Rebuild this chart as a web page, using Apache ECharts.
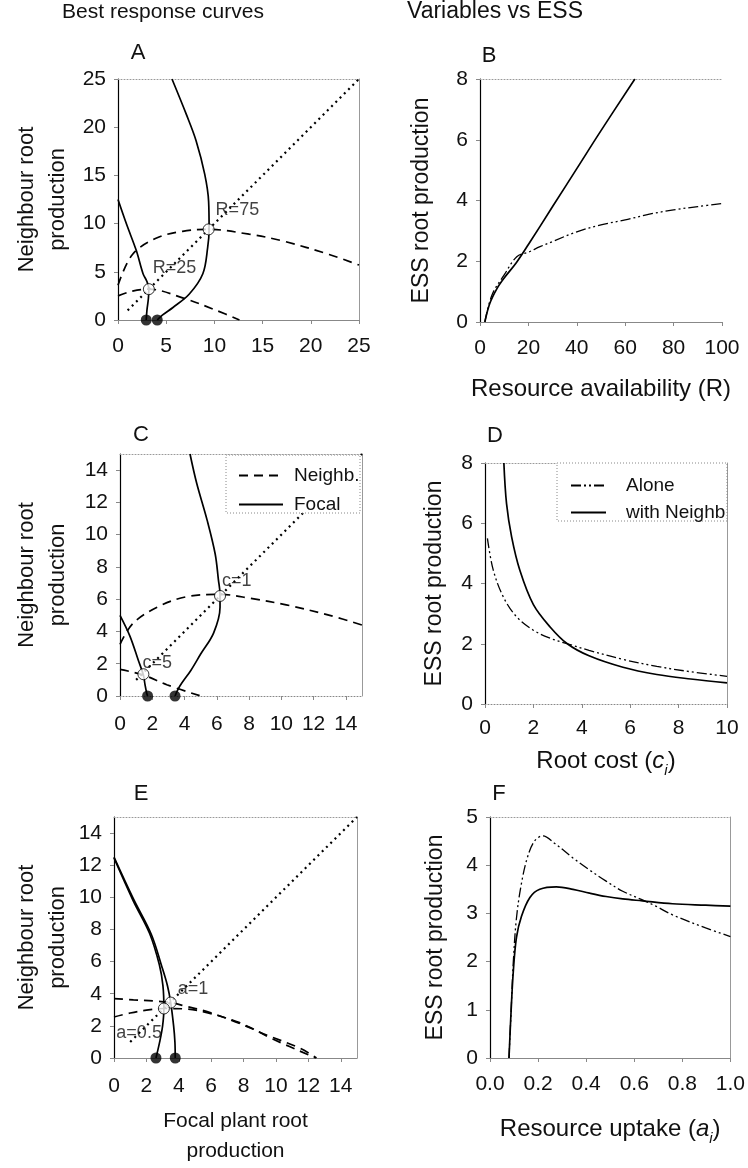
<!DOCTYPE html>
<html>
<head>
<meta charset="utf-8">
<script src="https://cdn.jsdelivr.net/npm/echarts@6/dist/echarts.min.js"></script>
<style>
  html, body { margin: 0; padding: 0; background: #fff; }
  #main { width: 748px; height: 1168px; }
</style>
</head>
<body>
<div id="main"></div>
<script>
// ---- data ----
// A: best response curves for R = 25 and R = 75
var focalA25 = [[2.93,0],[3.0,1.0],[3.15,2.2],[3.2,3.2],[3.0,4.0],[2.6,4.8],[1.9,7.2],[0.9,9.9],[0,12.5]];
var focalA75 = [[4.07,0],[4.6,0.5],[5.7,1.3],[7.4,2.7],[8.8,4.8],[9.3,7.5],[9.45,9.4],[9.4,12.3],[9.0,15.1],[8.1,18.6],[7.1,21.3],[5.6,25]];
var neighA25 = [[0,2.5],[1.5,3.0],[3.2,3.2],[6.7,2.3],[10.2,1.0],[12.6,0]];
var neighA75 = [[0,3.6],[1.5,6.8],[4,8.5],[6.7,9.2],[9.4,9.4],[13.6,8.9],[17.1,8.2],[21.9,6.8],[25,5.7]];
var diagA = [[1,1],[25,25]];
var eqA = [[3.2,3.2,'R=25'],[9.4,9.4,'R=75']];
var startA = [[2.93,0],[4.07,0]];

// B: ESS vs resource availability
var aloneB = [[2,0],[5,0.9],[10,1.55],[15.2,2.15],[20,2.3],[24.8,2.48],[30,2.65],[40,2.97],[50,3.2],[60,3.36],[70,3.55],[80,3.69],[90,3.8],[100,3.9]];
var neighB = [[2,0],[4,0.6],[7,1.1],[10,1.45],[15,1.95],[20,2.55],[30,3.8],[40,5.05],[50,6.3],[64,8]];

// C: best response curves for c = 1 and c = 5
var focalC1 = [[3.41,0],[3.7,0.6],[4.4,1.6],[5.0,2.6],[5.8,3.9],[6.2,5.5],[6.2,6.3],[6.1,7.2],[5.9,8.8],[5.4,10.9],[4.75,13.2],[4.34,15]];
var focalC5 = [[1.71,0],[1.65,0.2],[1.55,0.7],[1.45,1.3],[1.14,2.2],[0.62,3.7],[0,5.0]];
var neighC1 = [[0,3.2],[0.8,4.5],[2.3,5.5],[4.1,6.15],[6.2,6.3],[8.1,6.05],[10.3,5.65],[13,5.0],[15,4.4]];
var neighC5 = [[0,1.65],[1.45,1.3],[2.9,0.7],[5.0,0]];
var diagC = [[1,1],[15,15]];
var eqC = [[6.2,6.2,'c=1'],[1.45,1.35,'c=5']];
var startC = [[1.71,0],[3.41,0]];

// D: ESS vs root cost
var aloneD = [[0.1,5.5],[0.34,4.45],[0.76,3.55],[1.3,2.9],[2,2.45],[2.7,2.18],[3.4,2.0],[4.3,1.78],[5.7,1.48],[7.1,1.25],[8.5,1.07],[10,0.92]];
var neighD = [[0.78,8],[0.89,6.65],[1.1,5.55],[1.44,4.44],[2,3.3],[2.7,2.55],[3.4,2.0],[4.3,1.6],[5.7,1.22],[7.1,0.98],[8.5,0.83],[10,0.7]];

// E: best response curves for a = 0.5 and a = 1
var focalE1 = [[0,12.5],[1.2,9.9],[2.3,7.7],[2.95,5.7],[3.3,4.5],[3.5,3.45],[3.68,2.0],[3.76,1.0],[3.78,0]];
var focalE05 = [[0,12.45],[1.18,9.8],[2.2,7.75],[2.8,5.8],[3.02,4.5],[3.08,3.08],[3.0,2.0],[2.82,1.0],[2.59,0]];
var neighE1 = [[0,3.7],[1.2,3.62],[2.5,3.55],[3.5,3.45],[4.5,3.2],[5.7,2.9],[7.5,2.25],[9.5,1.4],[11.5,0.6],[12.5,0]];
var neighE05 = [[0,2.55],[1.0,2.8],[2.0,2.98],[3.08,3.08],[4.5,3.05],[5.8,2.8],[7.75,2.2],[9.8,1.18],[12.45,0]];
var diagE = [[1,1],[15,15]];
var eqE = [[3.5,3.45,'a=1'],[3.08,3.08,'a=0.5']];
var startE = [[2.59,0],[3.78,0]];

// F: ESS vs resource uptake
var aloneF = [[0.079,0],[0.088,1.0],[0.097,2.0],[0.11,2.9],[0.13,3.6],[0.155,4.15],[0.185,4.5],[0.22,4.61],[0.27,4.45],[0.345,4.15],[0.414,3.9],[0.483,3.67],[0.552,3.46],[0.634,3.28],[0.69,3.15],[0.759,2.97],[0.897,2.7],[1.0,2.52]];
var neighF = [[0.079,0],[0.088,1.0],[0.097,1.8],[0.11,2.5],[0.131,2.94],[0.166,3.33],[0.207,3.5],[0.276,3.55],[0.345,3.5],[0.414,3.42],[0.483,3.35],[0.552,3.3],[0.634,3.26],[0.759,3.2],[0.897,3.17],[1.0,3.15]];

// axis ranges [min, max, step] and titles
var xRanges = [[0,25,5],[0,100,20],[0,15,2],[0,10,2],[0,15,2],[0,1,0.2]];
var yRanges = [[0,25,5],[0,8,2],[0,15,2],[0,8,2],[0,15,2],[0,5,1]];
var xNames = ['', 'Resource availability (R)', '', 'Root cost ({it|c}{sub|i})', 'Focal plant root\nproduction', 'Resource uptake ({it|a}{sub|i})'];
var yNames = ['Neighbour root\nproduction', 'ESS root production', 'Neighbour root\nproduction', 'ESS root production', 'Neighbour root\nproduction', 'ESS root production'];
var headers = ['Best response curves', 'Variables vs ESS'];
var letters = ['A', 'B', 'C', 'D', 'E', 'F'];

// ---- layout / style ----
var FONT = '"Liberation Sans", Arial, sans-serif';
var INK = '#111';
var grids = [
  {left: 118, top: 79, width: 241, height: 241},
  {left: 480, top: 79, width: 242, height: 243},
  {left: 120, top: 454, width: 242, height: 242},
  {left: 485, top: 463, width: 242, height: 241},
  {left: 114, top: 817, width: 243, height: 241},
  {left: 490, top: 817, width: 242, height: 241}
];
var xGap = [0, 51, 0, 41, 48, 55];
var yGap = [45, 42, 47, 34, 41, 38];
var xNameSize = [21, 24, 21, 24, 21, 24];
var yNameSize = [22, 23, 22, 23, 22, 23];
var xLabelMargin = [16, 16, 18, 14, 18, 16];
var dottedBottom = [false, false, true, true, false, false];
var hasRight = [true, false, true, true, true, true];
var headerPos = [[163, 12], [495, 12]];
var headerSize = [21, 23];
var letterPos = [[138, 53], [489, 56], [141, 435], [495, 436], [141, 794], [499, 794]];
var labelPlace = {
  'R=25': ['right', [-7, -21]], 'R=75': ['right', [-4, -19]],
  'c=1': ['right', [-9, -15]], 'c=5': ['right', [-12, -11]],
  'a=1': ['right', [-4, -14]], 'a=0.5': ['left', [9, 25]]
};

var SOLID = {color: '#000', width: 1.7, type: 'solid'};
var DASH = {color: '#000', width: 1.7, type: [9, 6]};
var DOTS = {color: '#000', width: 2.2, type: [2, 4]};
var DASHDOT = {color: '#000', width: 1.3, type: [10, 3, 2, 3, 2, 3]};

function nameStyle(size) {
  return {
    fontSize: size, color: INK, fontFamily: FONT, lineHeight: size + 9,
    rich: {
      it: {fontSize: size, fontStyle: 'italic', fontFamily: FONT, color: INK},
      sub: {fontSize: Math.round(size * 0.62), fontStyle: 'italic', fontFamily: FONT, color: INK,
        verticalAlign: 'bottom', lineHeight: size + 9}
    }
  };
}

var xAxes = [], yAxes = [];
grids.forEach(function (g, i) {
  var xa = {
    type: 'value', gridIndex: i, min: xRanges[i][0], max: xRanges[i][1], interval: xRanges[i][2],
    axisLine: {onZero: false, lineStyle: {color: '#888', width: 1, type: dottedBottom[i] ? [1, 2] : 'solid'}},
    axisTick: {length: 4, lineStyle: {color: '#888'}},
    axisLabel: {color: INK, fontSize: 21, fontFamily: FONT, margin: xLabelMargin[i]},
    splitLine: {show: false},
    name: xNames[i], nameLocation: 'middle', nameGap: xGap[i], nameTextStyle: nameStyle(xNameSize[i])
  };
  if (i === 2 || i === 4) xa.axisLabel.showMaxLabel = false;
  if (i === 5) xa.axisLabel.formatter = function (v) { return v.toFixed(1); };
  xAxes.push(xa);
  var ya = {
    type: 'value', gridIndex: i, min: yRanges[i][0], max: yRanges[i][1], interval: yRanges[i][2],
    axisLine: {onZero: false, lineStyle: {color: '#000', width: 1.2}},
    axisTick: {length: 4, lineStyle: {color: '#888'}},
    axisLabel: {color: INK, fontSize: 21, fontFamily: FONT, margin: 12},
    splitLine: {show: false},
    name: yNames[i], nameLocation: 'middle', nameGap: yGap[i], nameTextStyle: nameStyle(yNameSize[i])
  };
  if (i === 2 || i === 4) ya.axisLabel.showMaxLabel = false;
  yAxes.push(ya);
});
// frame: dotted top edge, grey right edge
grids.forEach(function (g, i) {
  xAxes.push({
    type: 'value', gridIndex: i, position: 'top', min: 0, max: 1,
    axisLine: {show: true, onZero: false, lineStyle: {color: '#999', width: 1, type: [1, 2]}},
    axisTick: {show: false}, axisLabel: {show: false}, splitLine: {show: false}
  });
  yAxes.push({
    type: 'value', gridIndex: i, position: 'right', min: 0, max: 1,
    axisLine: {show: hasRight[i], onZero: false, lineStyle: {color: '#999', width: 1}},
    axisTick: {show: false}, axisLabel: {show: false}, splitLine: {show: false}
  });
});

var series = [];
function line(gi, name, data, style, smooth) {
  series.push({
    type: 'line', name: name, xAxisIndex: gi, yAxisIndex: gi, data: data,
    symbol: 'none', smooth: smooth === undefined ? 0.35 : smooth, lineStyle: style,
    silent: true, animation: false, z: 2
  });
}
function eqPoints(gi, pts) {
  series.push({
    type: 'scatter', xAxisIndex: gi, yAxisIndex: gi, symbol: 'circle', symbolSize: 11,
    itemStyle: {color: '#fff', borderColor: '#000', borderWidth: 1}, z: 5, silent: true, animation: false,
    data: pts.map(function (p) {
      var pl = labelPlace[p[2]];
      return {value: [p[0], p[1]], name: p[2],
        label: {show: true, formatter: p[2], position: pl[0], offset: pl[1],
          fontSize: 18, fontFamily: FONT, color: INK}};
    })
  });
}
function startPoints(gi, pts) {
  series.push({
    type: 'scatter', xAxisIndex: gi, yAxisIndex: gi, symbol: 'circle', symbolSize: 11,
    itemStyle: {color: '#000'}, z: 5, silent: true, animation: false, data: pts
  });
}

// C first so the legend takes its styles
line(2, 'Neighb.', neighC1, DASH);
line(2, 'Neighb.', neighC5, DASH);
line(2, 'Focal', focalC1, SOLID);
line(2, 'Focal', focalC5, SOLID);
line(2, '', diagC, DOTS, false);
eqPoints(2, eqC);
startPoints(2, startC);

line(3, 'Alone', aloneD, DASHDOT);
line(3, 'with Neighb', neighD, SOLID);

line(0, '', neighA25, DASH);
line(0, '', neighA75, DASH);
line(0, '', focalA25, SOLID);
line(0, '', focalA75, SOLID);
line(0, '', diagA, DOTS, false);
eqPoints(0, eqA);
startPoints(0, startA);

line(1, 'Alone', aloneB, DASHDOT);
line(1, 'with Neighb', neighB, SOLID);

line(4, '', neighE1, DASH);
line(4, '', neighE05, DASH);
line(4, '', focalE1, SOLID);
line(4, '', focalE05, SOLID);
line(4, '', diagE, DOTS, false);
eqPoints(4, eqE);
startPoints(4, startE);

line(5, 'Alone', aloneF, DASHDOT);
line(5, 'with Neighb', neighF, SOLID);

var graphics = [];
headers.forEach(function (h, i) {
  graphics.push({type: 'text', x: headerPos[i][0], y: headerPos[i][1], z: 30,
    style: {text: h, font: headerSize[i] + 'px ' + FONT, fill: INK, textAlign: 'center', textVerticalAlign: 'middle'}});
});
letters.forEach(function (l, i) {
  graphics.push({type: 'text', x: letterPos[i][0], y: letterPos[i][1], z: 30,
    style: {text: l, font: '22px ' + FONT, fill: INK, textAlign: 'center', textVerticalAlign: 'middle'}});
});
// legend boxes
graphics.push({type: 'rect', shape: {x: 226, y: 455, width: 134, height: 58}, z: 10,
  style: {fill: '#fff', stroke: '#888', lineWidth: 1, lineDash: [1, 2]}});
graphics.push({type: 'rect', shape: {x: 557, y: 463, width: 170, height: 58}, z: 10,
  style: {fill: '#fff', stroke: '#888', lineWidth: 1, lineDash: [1, 2]}});

var legendText = {fontSize: 19, fontFamily: FONT, color: INK};
var option = {
  animation: false,
  textStyle: {fontFamily: FONT, color: INK},
  grid: grids,
  xAxis: xAxes,
  yAxis: yAxes,
  legend: [
    {data: ['Neighb.', 'Focal'], orient: 'vertical', left: 233, top: 461, itemWidth: 44, itemHeight: 12,
      itemGap: 10, selectedMode: false, z: 20, itemStyle: {opacity: 0},
      textStyle: Object.assign({padding: [0, 0, 0, 6]}, legendText)},
    {data: ['Alone', 'with Neighb'], orient: 'vertical', left: 565, top: 471, itemWidth: 35, itemHeight: 12,
      itemGap: 8, selectedMode: false, z: 20, itemStyle: {opacity: 0},
      textStyle: Object.assign({padding: [0, 0, 0, 15]}, legendText)}
  ],
  graphic: graphics,
  series: series
};

var myChart = echarts.init(document.getElementById('main'), null, {renderer: 'canvas'});
myChart.setOption(option);
window.addEventListener('resize', myChart.resize);
</script>
</body>
</html>
